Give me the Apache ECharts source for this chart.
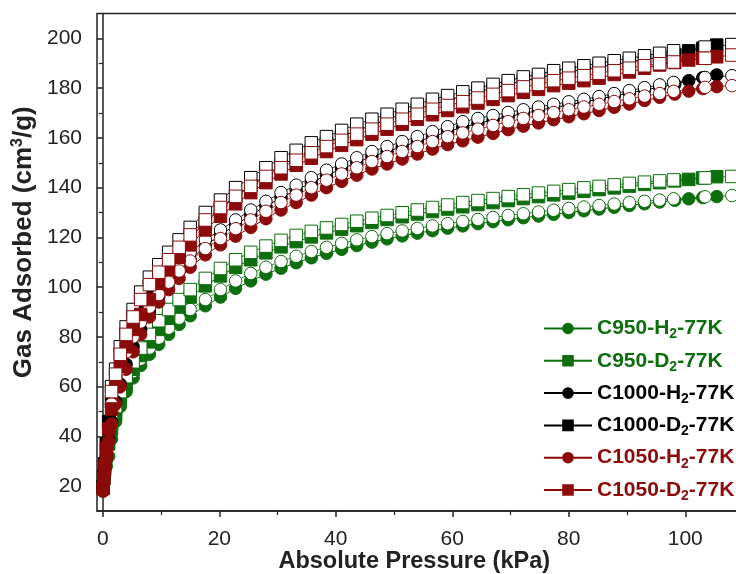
<!DOCTYPE html>
<html>
<head>
<meta charset="utf-8">
<script src="https://cdn.jsdelivr.net/npm/echarts@6/dist/echarts.min.js"></script>
<style>
  html, body { margin: 0; padding: 0; background: #fff; }
  #chart { width: 736px; height: 574px; }
</style>
</head>
<body>
<div id="chart"></div>
<script>
// pressures (kPa): adsorption branch and desorption branch
const adsP = [
  0.05, 0.15, 0.3, 0.6, 1.0, 1.5, 2.2, 3.0, 4.0, 5.2, 6.5, 8.0, 9.6, 11.3, 13.1, 15.0,
  17.6, 20.2, 22.8, 25.4, 28.0, 30.6, 33.2, 35.8, 38.4, 41.0,
  43.6, 46.2, 48.8, 51.4, 54.0, 56.6, 59.2, 61.8, 64.4, 67.0,
  69.6, 72.2, 74.8, 77.4, 80.0, 82.6, 85.2, 87.8, 90.4, 93.0,
  95.6, 98.2, 100.6, 103.0, 105.4
];
const desP = [
  1.5, 2.2, 3.0, 4.0, 5.2, 6.5, 8.0, 9.6, 11.3, 13.1, 15.0,
  17.6, 20.2, 22.8, 25.4, 28.0, 30.6, 33.2, 35.8, 38.4, 41.0,
  43.6, 46.2, 48.8, 51.4, 54.0, 56.6, 59.2, 61.8, 64.4, 67.0,
  69.6, 72.2, 74.8, 77.4, 80.0, 82.6, 85.2, 87.8, 90.4, 93.0,
  95.6, 98.0, 103.4, 108.0
];

// gas adsorbed (cm3/g)
const c950H2Ads = [
  18, 21, 24, 28, 32, 39, 46, 52, 58, 63.5, 68.5, 73, 77, 81, 85, 88.5,
  92.5, 96, 99.5, 102.5, 105.2, 107.6, 109.8, 111.8, 113.6, 115.2,
  116.7, 118.1, 119.4, 120.6, 121.7, 122.7, 123.7, 124.6, 125.5, 126.3,
  127.1, 127.9, 128.6, 129.3, 130, 130.7, 131.4, 132.1, 132.8, 133.5,
  134.2, 134.9, 135.5, 136, 136.4
];
const c950H2Des = [
  43, 49, 55, 60.5, 66, 71, 75.5, 79.5, 83.5, 87.5, 91,
  95, 99, 102.5, 105.5, 108, 110.3, 112.4, 114.3, 116, 117.6,
  119, 120.3, 121.5, 122.6, 123.6, 124.6, 125.5, 126.4, 127.2, 128,
  128.8, 129.5, 130.2, 130.9, 131.6, 132.2, 132.8, 133.4, 134, 134.5,
  135, 135.5, 136.3, 136.8
];
const c950D2Ads = [
  20, 23, 27, 32, 37, 43, 49, 55, 61, 67, 72.5, 78, 83, 87.5, 92, 96,
  100.5, 104.5, 108, 111, 113.8, 116.2, 118.3, 120.2, 121.8, 123.3,
  124.7, 126, 127.2, 128.3, 129.4, 130.4, 131.4, 132.3, 133.2, 134,
  134.8, 135.6, 136.4, 137.1, 137.8, 138.5, 139.2, 139.9, 140.6, 141.3,
  142, 142.7, 143.3, 143.9, 144.4
];
const c950D2Des = [
  46, 52, 58, 64, 70, 75.5, 81, 86.5, 91, 95, 99,
  103.5, 107.5, 111, 114, 116.5, 118.8, 120.8, 122.4, 123.8, 125.2,
  126.5, 127.7, 128.8, 129.9, 131, 132, 133, 134, 134.8, 135.6,
  136.4, 137.1, 137.8, 138.5, 139.2, 139.9, 140.5, 141.1, 141.7, 142.2,
  142.7, 143.1, 143.9, 144.5
];
const c1000H2Ads = [
  19, 22, 26, 32, 39, 46, 54, 61, 69, 76, 83, 90, 96, 101.5, 106.5, 111,
  116.5, 121, 125, 129, 132.5, 136, 139, 142, 145, 147.5,
  150, 152.5, 154.5, 156.5, 158.5, 160.5, 162.5, 164.3, 165.8, 167.2,
  168.5, 169.8, 171, 172.2, 173.3, 174.4, 175.6, 176.8, 178, 179.2,
  180.4, 181.6, 183, 184.2, 185.3
];
const c1000H2Des = [
  55, 62, 69, 76, 83, 89, 95, 100, 105, 110, 114,
  119, 123, 127, 131, 134.5, 138, 141, 144, 147, 149.5,
  152, 154.5, 156.5, 158.5, 160.5, 162.5, 164.5, 166.5, 167.8, 169,
  170.2, 171.3, 172.4, 173.5, 174.5, 175.5, 176.6, 177.8, 179, 180.2,
  181.3, 182.3, 184.3, 185
];
const c1000D2Ads = [
  20, 24, 29, 37, 46, 54, 64, 73, 81, 88, 94, 100, 105.5, 110.5, 115.5, 120,
  126, 131.5, 136.5, 141, 145, 149, 152, 155, 158, 160.5,
  163, 165, 167.5, 169.5, 171.5, 173.5, 175, 177, 178.5, 180,
  181.5, 183, 184, 185.5, 186.5, 187.5, 188.5, 189.5, 190.5, 191.5,
  192.5, 193.5, 195, 196, 197.3
];
const c1000D2Des = [
  60, 67, 76, 84, 91, 98, 104, 109, 114, 119, 124,
  130, 135, 140, 144, 148, 152, 155, 158, 160.5, 163,
  165.5, 167.5, 169.5, 171.5, 173.5, 175.5, 177, 178.5, 180, 181.5,
  183, 184.5, 185.5, 187, 188, 189, 190, 191, 192, 193,
  194, 195, 196.5, 197.5
];
const c1050H2Ads = [
  18, 21, 25, 31, 38, 45, 53, 60, 67, 74, 81, 88, 94, 99, 103.5, 108,
  113, 117, 120.5, 124, 127.5, 131, 134, 137, 140, 142.5,
  145, 147.5, 149.5, 151.5, 153.5, 155.5, 157.3, 158.8, 160.3, 161.8,
  163.3, 164.7, 166, 167.3, 168.5, 169.7, 171, 172.3, 173.6, 175,
  176.3, 177.6, 178.8, 179.8, 180.6
];
const c1050H2Des = [
  53, 60, 67, 74, 80, 86, 92, 97, 102, 106.5, 110.5,
  115.5, 119.5, 123.5, 127, 130.5, 134, 137, 140, 143, 145.5,
  148, 150.5, 152.5, 154.5, 156.5, 158.5, 160.5, 162, 163.5, 165,
  166.5, 167.8, 169, 170.2, 171.3, 172.4, 173.5, 174.6, 175.7, 176.8,
  177.8, 178.7, 180.3, 181
];
const c1050D2Ads = [
  19, 23, 28, 35, 43, 51, 60, 68, 76, 83, 89, 95, 101.5, 107, 112, 117,
  123, 128.5, 133.5, 138, 142, 145.5, 149, 151.8, 154.5, 157,
  159.3, 161.5, 163.5, 165.5, 167.5, 169.3, 171, 172.5, 174, 175.5,
  177, 178.3, 179.5, 181, 182, 183, 184, 185.5, 186.5, 188,
  189.3, 190.3, 191.3, 192, 192.6
];
const c1050D2Des = [
  58, 65, 73, 81, 88, 95, 101, 106, 111, 116, 121,
  127, 132, 136.5, 140.5, 144.5, 148, 151, 154, 156.5, 159,
  161.5, 163.5, 165.5, 167.5, 169.5, 171.5, 173, 174.5, 176, 177.5,
  179, 180.5, 181.5, 183, 184, 185, 186, 187, 188, 189,
  189.8, 190.5, 192, 193.3
];

const sampleNames = [
  "C950-H2-77K", "C950-D2-77K", "C1000-H2-77K",
  "C1000-D2-77K", "C1050-H2-77K", "C1050-D2-77K"
];
const xLabels = [0, 20, 40, 60, 80, 100];
const xMinor = [10, 30, 50, 70, 90];
const yLabels = [20, 40, 60, 80, 100, 120, 140, 160, 180, 200];
const yMinor = [30, 50, 70, 90, 110, 130, 150, 170, 190];

const GREEN = "#0d6e0d";
const BLACK = "#000000";
const RED = "#8c0a0a";
const FONT = "Liberation Sans, Arial, sans-serif";

const samples = [
  { name: sampleNames[0], color: GREEN, symbol: "circle", ads: c950H2Ads, des: c950H2Des },
  { name: sampleNames[1], color: GREEN, symbol: "rect", ads: c950D2Ads, des: c950D2Des },
  { name: sampleNames[2], color: BLACK, symbol: "circle", ads: c1000H2Ads, des: c1000H2Des },
  { name: sampleNames[3], color: BLACK, symbol: "rect", ads: c1000D2Ads, des: c1000D2Des },
  { name: sampleNames[4], color: RED, symbol: "circle", ads: c1050H2Ads, des: c1050H2Des },
  { name: sampleNames[5], color: RED, symbol: "rect", ads: c1050D2Ads, des: c1050D2Des },
];

const pairs = (xs, ys) => xs.map((x, i) => [x, ys[i]]);

const series = [];
samples.forEach(s => {
  series.push({
    name: s.name,
    type: "line",
    data: pairs(adsP, s.ads),
    symbol: s.symbol,
    symbolSize: 12.5,
    lineStyle: { color: s.color, width: 1 },
    itemStyle: { color: s.color, borderColor: s.color, borderWidth: 1 },
    emphasis: { disabled: true },
  });
  series.push({
    name: s.name,
    type: "line",
    data: pairs(desP, s.des),
    symbol: s.symbol,
    symbolSize: 12.5,
    lineStyle: { color: s.color, width: 1, opacity: 0.8 },
    itemStyle: { color: "#ffffff", borderColor: s.color, borderWidth: 1 },
    emphasis: { disabled: true },
  });
});

const axisColor = "#222";

const chart = echarts.init(document.getElementById("chart"));
chart.setOption({
  backgroundColor: "#fff",
  animation: false,
  grid: {
    left: 97, top: 13.5, width: 646.5, bottom: 63,
    outerBoundsMode: "none",
    containLabel: false,
    show: true, borderColor: axisColor, borderWidth: 1.5,
  },
  legend: {
    orient: "vertical",
    left: 538,
    top: 313,
    itemWidth: 48,
    itemHeight: 12,
    itemGap: 8.8,
    selectedMode: false,
    formatter: name => "{a|" + name.replace(/([HD])2-/, "$1}{s|2}{a|-") + "}",
    textStyle: {
      fontFamily: FONT,
      rich: {
        a: { fontSize: 21, fontWeight: "bold", fontFamily: FONT },
        s: { fontSize: 14, fontWeight: "bold", fontFamily: FONT, verticalAlign: "bottom", padding: [12, 0, 0, 0] },
      },
    },
    data: samples.map(s => ({ name: s.name, textStyle: { color: s.color } })),
  },
  xAxis: [
    {
      type: "value",
      min: -1,
      max: 110,
      position: "bottom",
      name: "Absolute Pressure (kPa)",
      nameLocation: "middle",
      nameGap: 39,
      nameMoveOverlap: false,
      nameTextStyle: { fontFamily: FONT, fontSize: 23.5, fontWeight: "bold", color: axisColor, padding: [0, 12, 0, 0] },
      axisLine: { show: true, lineStyle: { color: axisColor, width: 1.5 } },
      axisTick: { show: true, length: 6, customValues: xLabels, lineStyle: { color: axisColor, width: 1.5 } },
      axisLabel: { customValues: xLabels, fontFamily: FONT, fontSize: 21, color: axisColor, margin: 18 },
      splitLine: { show: false },
    },
    {
      type: "value",
      min: -1,
      max: 110,
      position: "bottom",
      offset: 0,
      axisLine: { show: false },
      axisTick: { show: true, length: 4, customValues: xMinor, lineStyle: { color: axisColor, width: 1.2 } },
      axisLabel: { show: false },
      splitLine: { show: false },
    },
  ],
  yAxis: [
    {
      type: "value",
      min: 10,
      max: 210,
      position: "left",
      name: "{a|Gas Adsorbed (cm}{p|3}{a|/g)}",
      nameLocation: "middle",
      nameGap: 59,
      nameMoveOverlap: false,
      nameTextStyle: {
        color: axisColor,
        padding: [0, 0, 0, 40],
        rich: {
          a: { fontFamily: FONT, fontSize: 26, fontWeight: "bold", color: axisColor },
          p: { fontFamily: FONT, fontSize: 16, fontWeight: "bold", color: axisColor, verticalAlign: "top", padding: [0, 0, 12, 0] },
        },
      },
      axisLine: { show: true, lineStyle: { color: axisColor, width: 1.5 } },
      axisTick: { show: true, length: 6, customValues: yLabels, lineStyle: { color: axisColor, width: 1.5 } },
      axisLabel: { customValues: yLabels, fontFamily: FONT, fontSize: 21, color: axisColor, margin: 15 },
      splitLine: { show: false },
    },
    {
      type: "value",
      min: 10,
      max: 210,
      position: "left",
      offset: 0,
      axisLine: { show: false },
      axisTick: { show: true, length: 4, customValues: yMinor, lineStyle: { color: axisColor, width: 1.2 } },
      axisLabel: { show: false },
      splitLine: { show: false },
    },
  ],
  series,
});
</script>
</body>
</html>
